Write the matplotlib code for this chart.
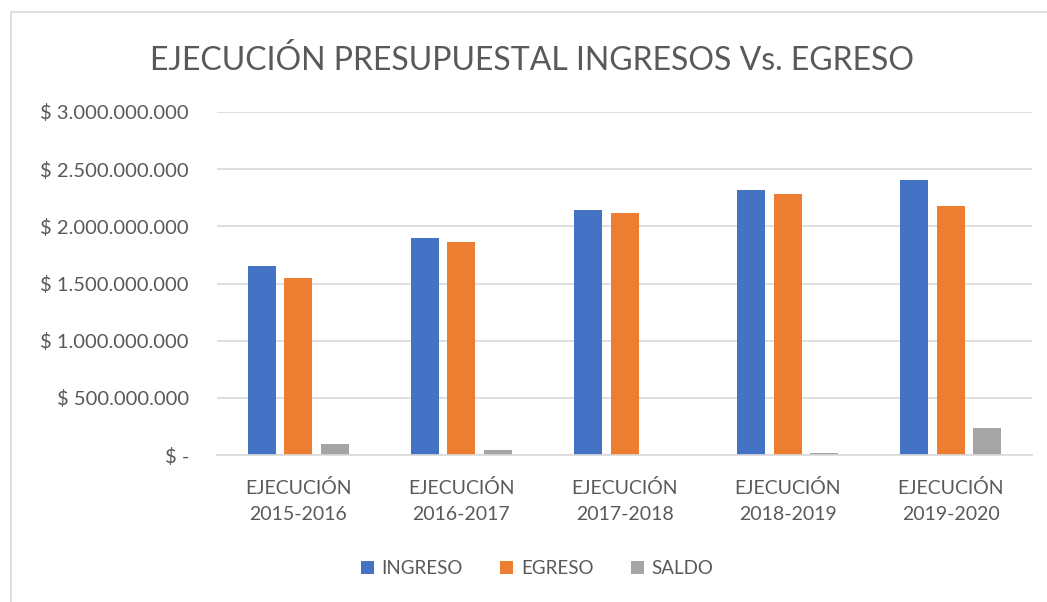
import matplotlib.pyplot as plt
import numpy as np
from matplotlib.patches import Rectangle

plt.rcParams['font.family'] = ['Lato', 'DejaVu Sans']

categorias = ['EJECUCIÓN\n2015-2016', 'EJECUCIÓN\n2016-2017', 'EJECUCIÓN\n2017-2018',
              'EJECUCIÓN\n2018-2019', 'EJECUCIÓN\n2019-2020']
ingreso = [1649e6, 1894e6, 2139e6, 2314e6, 2401e6]
egreso = [1545e6, 1859e6, 2121e6, 2279e6, 2174e6]
saldo = [94e6, 41e6, 0, 18e6, 233e6]
ticks = [0, 500e6, 1000e6, 1500e6, 2000e6, 2500e6, 3000e6]

def fmt(v):
    if v == 0:
        return '$ -'
    return '$ ' + f'{int(v):,}'.replace(',', '.')

fig = plt.figure(figsize=(10.47, 6.02), dpi=100)
fig.patches.append(Rectangle((0.0105, -0.01), 1.0, 0.99, transform=fig.transFigure,
                             fill=False, edgecolor='#d9d9d9', linewidth=1.2))
ax = fig.add_axes([0.207, 0.244, 0.779, 0.570])

x = np.arange(len(categorias))
w = 0.172
step = 0.224
ax.bar(x - step, ingreso, w, color='#4472c4', label='INGRESO')
ax.bar(x, egreso, w, color='#ed7d31', label='EGRESO')
ax.bar(x + step, saldo, w, color='#a5a5a5', label='SALDO')

ax.set_xlim(-0.5, len(categorias) - 0.5)
ax.set_ylim(0, 3000e6)
ax.set_yticks(ticks)
ax.set_yticklabels([fmt(t) for t in ticks], fontsize=14.5, color='#595959')
ax.set_xticks(x)
ax.set_xticklabels(categorias, fontsize=14, color='#595959', linespacing=1.65)
ax.tick_params(axis='both', length=0)
ax.tick_params(axis='y', pad=20)
ax.tick_params(axis='x', pad=17)
ax.grid(axis='y', color='#d9d9d9', linewidth=1.2)
ax.set_axisbelow(True)
for s in ['top', 'right', 'left']:
    ax.spines[s].set_visible(False)
ax.spines['bottom'].set_color('#d9d9d9')
ax.spines['bottom'].set_linewidth(1.2)

fig.text(0.508, 0.9, 'EJECUCIÓN PRESUPUESTAL INGRESOS Vs. EGRESO', ha='center', va='center',
         fontsize=23, color='#595959')
fig.legend(loc='center', bbox_to_anchor=(0.513, 0.055), ncol=3, frameon=False,
           fontsize=13.5, labelcolor='#595959', handlelength=0.7, handleheight=0.7,
           columnspacing=2.0, handletextpad=0.4)

plt.savefig('out.png', dpi=100)
